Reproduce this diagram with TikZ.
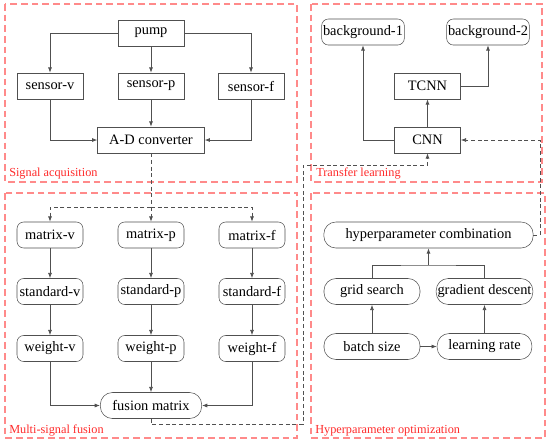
\documentclass[tikz,border=0pt]{standalone}
\usepackage{fontspec}
\setmainfont{Liberation Serif}
\usetikzlibrary{arrows.meta}

\definecolor{edgegray}{HTML}{505050}
\definecolor{framered}{HTML}{FF8A8A}
\definecolor{labelred}{HTML}{FF2A2A}

\begin{document}
\begin{tikzpicture}[
    x=0.75pt, y=-0.75pt,
    font=\fontsize{10.8}{12}\selectfont,
    sqbox/.style={draw=edgegray, rectangle, minimum width=49.5pt, minimum height=19.5pt, inner sep=1pt, align=center},
    rbox/.style={sqbox, rounded corners=5pt},
    frame/.style={draw=framered, dashed, thick, dash pattern=on 5pt off 3pt},
    framelabel/.style={text=labelred, font=\fontsize{9.2}{10}\selectfont, anchor=base west, inner sep=0pt},
    line/.style={draw=edgegray, semithick, -{Latex[length=4pt,width=3pt]}},
    plain/.style={draw=edgegray, semithick},
    dline/.style={line, densely dashed}
]
    \useasboundingbox (0,0) rectangle (550,444);

    % Frames
    \draw[frame] (5,4) rectangle (297,182);
    \draw[frame] (311,4) rectangle (542,182);
    \draw[frame] (5,193) rectangle (297,438);
    \draw[frame] (311,193) rectangle (545,438);
    \node[framelabel] (lab_sa) at (9,176) {Signal acquisition};
    \node[framelabel] (lab_tl) at (316,176) {Transfer learning};
    \node[framelabel] (lab_mf) at (9,433) {Multi-signal fusion};
    \node[framelabel] (lab_ho) at (315,433) {Hyperparameter optimization};

    % Signal acquisition
    \node[sqbox] (pump) at (151,33) {pump};
    \node[sqbox] (sen_v) at (50,86) {sensor-v};
    \node[sqbox] (sen_p) at (151,86) {sensor-p};
    \node[sqbox] (sen_f) at (251,86) {sensor-f};
    \node[sqbox, minimum width=80pt] (adc) at (151,140) {A-D converter};

    \draw[line] (pump.west) -| (sen_v.north);
    \draw[line] (pump) -- (sen_p);
    \draw[line] (pump.east) -| (sen_f.north);
    \draw[line] (sen_v.south) |- (adc.west);
    \draw[line] (sen_p) -- (adc);
    \draw[line] (sen_f.south) |- (adc.east);

    % Transfer learning
    \node[rbox, minimum width=58pt] (bg_1) at (363,32) {background-1};
    \node[rbox, minimum width=60pt] (bg_2) at (488,32) {background-2};
    \node[sqbox] (tcnn) at (427.5,86) {TCNN};
    \node[sqbox] (cnn) at (427.5,140) {CNN};

    \draw[line] (cnn.west) -| (bg_1.south);
    \draw[line] (cnn) -- (tcnn);
    \draw[line] (tcnn.east) -| (bg_2.south);

    % Multi-signal fusion
    \node[rbox] (mat_v) at (50,235) {matrix-v};
    \node[rbox] (mat_p) at (151,235) {matrix-p};
    \node[rbox] (mat_f) at (252,235) {matrix-f};
    \node[rbox] (std_v) at (50,291.5) {standard-v};
    \node[rbox] (std_p) at (151,291.5) {standard-p};
    \node[rbox] (std_f) at (252,291.5) {standard-f};
    \node[rbox] (wgt_v) at (50,348.5) {weight-v};
    \node[rbox] (wgt_p) at (151,348.5) {weight-p};
    \node[rbox] (wgt_f) at (252,348.5) {weight-f};
    \node[rbox, rounded corners=9pt, minimum width=76pt] (fusion) at (151,405.5) {fusion matrix};

    \draw[line] (mat_v) -- (std_v);
    \draw[line] (mat_p) -- (std_p);
    \draw[line] (mat_f) -- (std_f);
    \draw[line] (std_v) -- (wgt_v);
    \draw[line] (std_p) -- (wgt_p);
    \draw[line] (std_f) -- (wgt_f);
    \draw[line] (wgt_v.south) |- (fusion.west);
    \draw[line] (wgt_p) -- (fusion);
    \draw[line] (wgt_f.south) |- (fusion.east);

    % Hyperparameter optimization
    \node[rbox, rounded corners=9pt, minimum width=157pt] (hp_comb) at (428.5,235) {hyperparameter combination};
    \node[rbox, rounded corners=9pt, minimum width=72pt] (grid) at (372,291.5) {grid search};
    \node[rbox, rounded corners=9pt, minimum width=71pt] (grad) at (484.5,291.5) {gradient descent};
    \node[rbox, rounded corners=9pt, minimum width=72pt] (batch) at (372,346.5) {batch size};
    \node[rbox, rounded corners=9pt, minimum width=71pt] (lrate) at (484.5,346.5) {learning rate};

    \coordinate (merge) at (428.5,265);
    \draw[plain] (grid.north) |- (merge) -| (grad.north);
    \draw[line] (merge) -- (hp_comb.south);
    \draw[line] (batch) -- (grid);
    \draw[line] (lrate) -- (grad);
    \draw[line] (batch) -- (lrate);

    % Dashed links between stages
    \coordinate (split) at (151,207);
    \draw[plain, densely dashed] (adc.south) -- (split);
    \draw[dline] (split) -| (mat_v.north);
    \draw[dline] (split) -- (mat_p.north);
    \draw[dline] (split) -| (mat_f.north);

    \coordinate (turn_a) at (303,424);
    \coordinate (turn_b) at (303,165);
    \draw[dline] (fusion.south) |- (turn_a) -- (turn_b) -| (cnn.south);

    \coordinate (turn_c) at (540,140);
    \draw[dline] (hp_comb.east) -| (turn_c) -- (cnn.east);

\end{tikzpicture}
\end{document}
